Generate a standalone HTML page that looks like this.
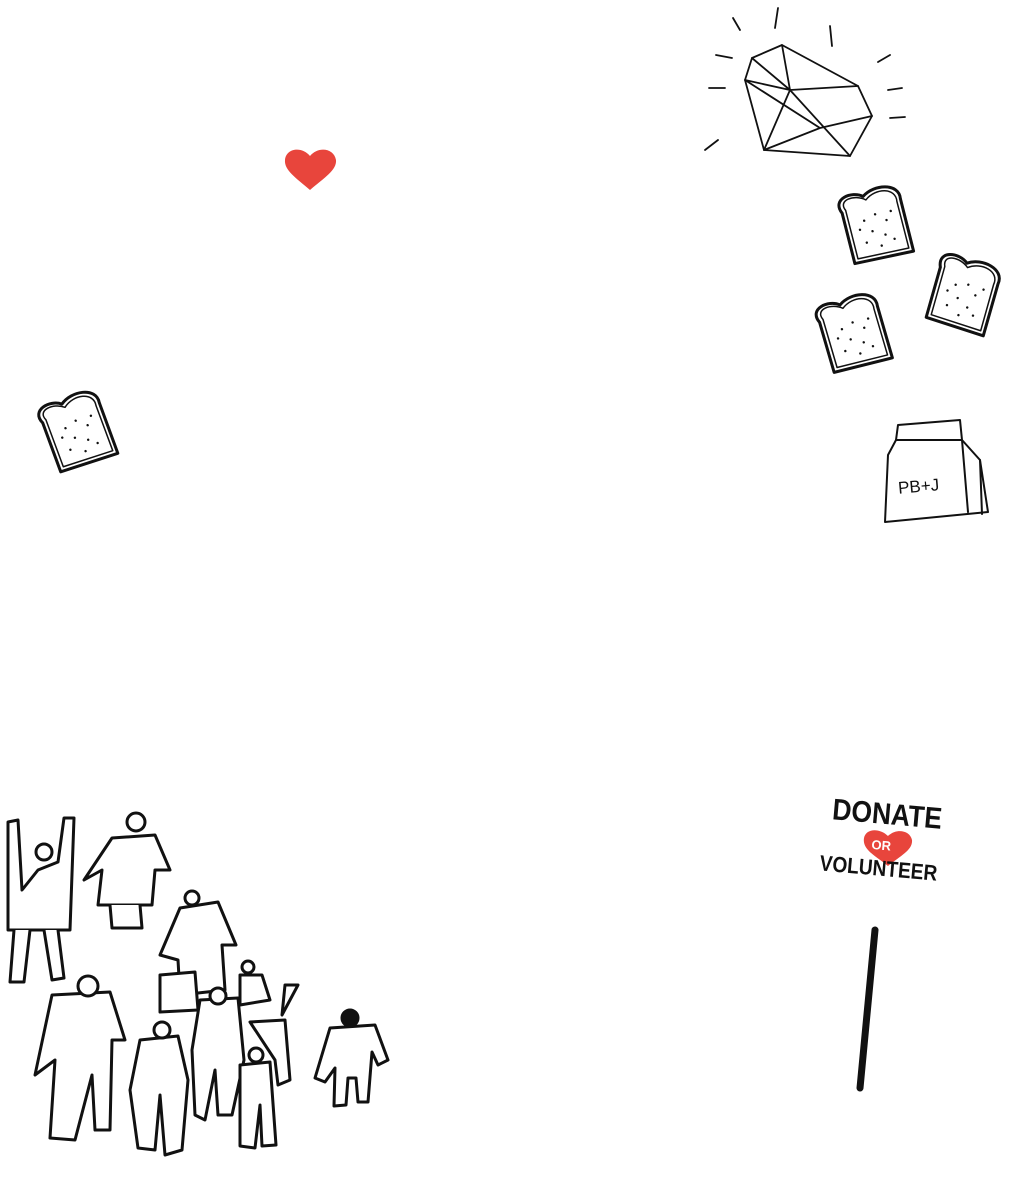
<!DOCTYPE html>
<html><head><meta charset="utf-8"><style>
html,body{margin:0;padding:0;background:#fff;width:1014px;height:1185px;overflow:hidden}
svg{position:absolute;left:0;top:0}
</style></head><body>
<svg width="1014" height="1185" viewBox="0 0 1014 1185" fill="none" stroke="#111" stroke-width="2" stroke-linejoin="round" stroke-linecap="round">
<defs>
<g id="toast">
<path d="M-32,-22 C-40,-38 -18,-42 -8,-34 C5,-44 30,-40 28,-24 L30,30 L-30,30 Z" fill="#fff" stroke-width="3"/>
<path d="M-28,-24 C-34,-36 -16,-38 -6,-30 C6,-40 26,-36 24,-22 L26,26 L-26,26 Z" fill="#fff" stroke-width="1.5"/>
<g fill="#111" stroke="none">
<circle cx="-12" cy="-10" r="1.2"/><circle cx="0" cy="-14" r="1.2"/><circle cx="10" cy="-6" r="1.2"/><circle cx="-6" cy="2" r="1.2"/><circle cx="6" cy="8" r="1.2"/><circle cx="-14" cy="12" r="1.2"/><circle cx="14" cy="14" r="1.2"/><circle cx="0" cy="18" r="1.2"/><circle cx="16" cy="-14" r="1.2"/><circle cx="-18" cy="-2" r="1.2"/>
</g>
</g>
</defs>
<!-- heart -->
<path d="M310,190 C296,178 284,170 285,160 C286,148 302,146 310,156 C318,146 334,148 336,160 C337,170 324,178 310,190 Z" fill="#e8453c" stroke="none"/>
<!-- gem -->
<g stroke-width="1.8">
<path d="M752,58 L782,45 L858,86 L872,116 L850,156 L764,150 L745,80 Z"/>
<path d="M752,58 L790,90 L858,86 M790,90 L764,150 M790,90 L850,156 M745,80 L820,128 L872,116 M820,128 L764,150 M782,45 L790,90 M745,80 L790,90"/>
<path d="M733,18 L740,30 M778,8 L775,28 M830,26 L832,46 M878,62 L890,55 M888,90 L902,88 M890,118 L905,117 M705,150 L718,140 M709,88 L725,88 M716,55 L732,58"/>
</g>
<!-- toasts -->
<use href="#toast" transform="translate(80,434) rotate(-18)"/>
<use href="#toast" transform="translate(878,228) rotate(-12)"/>
<use href="#toast" transform="translate(964,298) rotate(18)"/>
<use href="#toast" transform="translate(856,336) rotate(-14)"/>
<!-- bag -->
<g stroke-width="2">
<path d="M898,425 L960,420 L962,440 L980,460 L988,512 L885,522 L888,455 L896,440 Z" fill="#fff"/>
<path d="M896,440 L962,440 M962,440 L968,512 M980,460 L982,514"/>
<text x="898" y="492" font-family="Liberation Sans, sans-serif" font-size="17" fill="#111" stroke="none" transform="rotate(-5 918 486)">PB+J</text>
</g>
<!-- sign -->
<path d="M888,866 C876,856 862,850 864,838 C866,828 880,828 888,836 C896,828 910,830 912,840 C913,850 900,856 888,866 Z" fill="#e8453c" stroke="none"/>
<g transform="rotate(5 885 840)" font-family="Liberation Sans, sans-serif" font-weight="bold" fill="#111" stroke="none">
<text x="830" y="824" font-size="30" textLength="110" lengthAdjust="spacingAndGlyphs">DONATE</text>
<text x="872" y="850" font-size="13" fill="#fff">OR</text>
<text x="822" y="876" font-size="22" textLength="118" lengthAdjust="spacingAndGlyphs">VOLUNTEER</text>
</g>
<path d="M875,930 L860,1088" stroke-width="7"/>
<!-- people -->
<g stroke-width="3" fill="#fff">
<path d="M8,822 L18,820 L22,890 L38,870 L58,862 L64,818 L74,818 L70,930 L8,930 Z"/>
<path d="M14,930 L10,982 L24,982 L30,930 M44,930 L52,980 L64,978 L58,930"/>
<circle cx="44" cy="852" r="8"/>
<path d="M112,838 L155,835 L170,870 L155,870 L152,905 L98,905 L102,870 L84,880 Z"/>
<path d="M110,905 L112,928 L142,928 L140,905"/>
<circle cx="136" cy="822" r="9"/>
<path d="M180,908 L218,902 L236,945 L222,945 L225,990 L180,995 L178,960 L160,955 Z"/>
<circle cx="192" cy="898" r="7"/>
<path d="M160,975 L195,972 L198,1010 L160,1012 Z"/>
<path d="M52,995 L110,992 L125,1040 L112,1040 L110,1130 L95,1130 L92,1075 L75,1140 L50,1138 L55,1060 L35,1075 Z"/>
<circle cx="88" cy="986" r="10"/>
<path d="M140,1040 L178,1036 L188,1080 L182,1150 L165,1155 L160,1095 L155,1150 L138,1148 L130,1090 Z"/>
<circle cx="162" cy="1030" r="8"/>
<path d="M200,1000 L238,998 L244,1060 L232,1115 L218,1115 L215,1070 L205,1120 L195,1115 L192,1050 Z"/>
<circle cx="218" cy="996" r="8"/>
<path d="M240,975 L262,975 L270,1000 L240,1005 Z"/>
<circle cx="248" cy="967" r="6"/>
<path d="M285,985 L298,985 L282,1015 Z"/>
<path d="M250,1022 L285,1020 L290,1080 L278,1085 L275,1060 Z"/>
<path d="M240,1065 L270,1062 L276,1145 L262,1146 L260,1105 L255,1148 L240,1146 Z"/>
<circle cx="256" cy="1055" r="7"/>
<path d="M330,1028 L375,1025 L388,1060 L378,1065 L372,1052 L368,1102 L358,1102 L356,1078 L348,1078 L346,1105 L334,1106 L335,1068 L325,1082 L315,1078 Z"/>
<circle cx="350" cy="1018" r="8" fill="#111"/>
</g>
</svg>
</body></html>
